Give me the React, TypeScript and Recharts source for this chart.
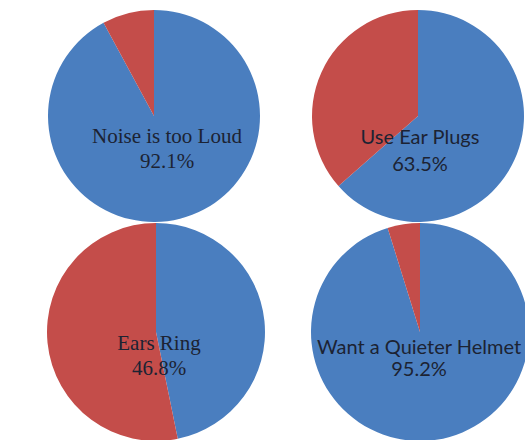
import React from 'react'
import { PieChart, Pie, Cell } from 'recharts'

const titles = ['Noise is too Loud', 'Use Ear Plugs', 'Ears Ring', 'Want a Quieter Helmet']
const yesValues = [92.1, 63.5, 46.8, 95.2]
const fonts = ['"Liberation Serif", serif', 'Lato, sans-serif', '"Liberation Serif", serif', 'Lato, sans-serif']
const colors = ['#4a7ebf', '#c44d4a']

// dx: label shift from pie centre; dy1 / dy2: baselines of the two label lines
const layout = [
  { cx: 154, cy: 116, r: 106, size: 21, dx: 13, dy1: 27, dy2: 52 },
  { cx: 418, cy: 116, r: 106, size: 20, dx: 2, dy1: 28, dy2: 55 },
  { cx: 156, cy: 332, r: 109, size: 21, dx: 3, dy1: 18, dy2: 43 },
  { cx: 420, cy: 332, r: 109, size: 20, dx: -1, dy1: 22, dy2: 44 }
]

export default function App () {
  return (
    <div style={{ position: 'absolute', left: 0, top: 0, width: 525, height: 440, background: '#fff' }}>
      <PieChart width={525} height={440} margin={{ top: 0, right: 0, bottom: 0, left: 0 }}>
        {yesValues.map((v, i) => (
          <Pie
            key={titles[i]}
            data={[
              { name: 'yes', value: v },
              { name: 'no', value: Math.round((100 - v) * 10) / 10 }
            ]}
            dataKey="value"
            cx={layout[i].cx}
            cy={layout[i].cy}
            outerRadius={layout[i].r}
            startAngle={90}
            endAngle={-270}
            stroke="none"
            isAnimationActive={false}
          >
            <Cell fill={colors[0]} />
            <Cell fill={colors[1]} />
          </Pie>
        ))}
      </PieChart>
      {/* centre labels drawn over the pies */}
      <svg width={525} height={440} style={{ position: 'absolute', left: 0, top: 0, pointerEvents: 'none' }}>
        {titles.map((t, i) => {
          const l = layout[i]
          return (
            <text
              key={t}
              textAnchor="middle"
              fill="#1c2333"
              fontFamily={fonts[i]}
              fontSize={l.size}
            >
              <tspan x={l.cx + l.dx} y={l.cy + l.dy1}>{t}</tspan>
              <tspan x={l.cx + l.dx} y={l.cy + l.dy2}>{yesValues[i].toFixed(1)}%</tspan>
            </text>
          )
        })}
      </svg>
    </div>
  )
}
